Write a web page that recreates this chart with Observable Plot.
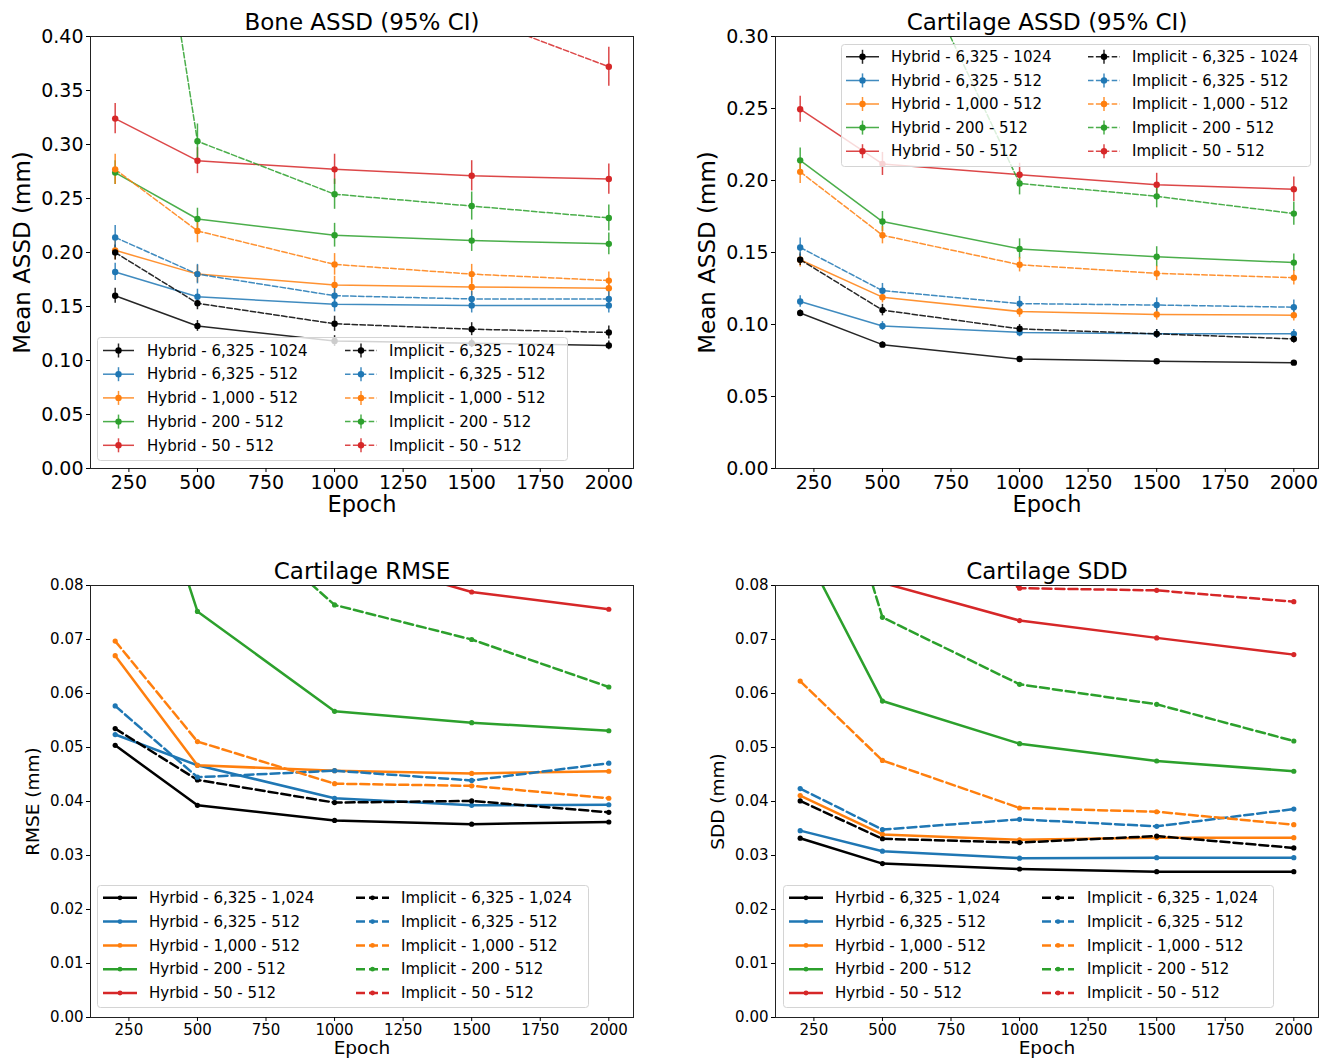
<!DOCTYPE html>
<html><head><meta charset="utf-8">
<script src="https://cdn.jsdelivr.net/npm/d3@7"></script>
<script src="https://cdn.jsdelivr.net/npm/@observablehq/plot@0.6"></script>
<style>
body{margin:0;background:#fff;}
#root{position:relative;width:1320px;height:1059px;font-family:"DejaVu Sans",sans-serif;background:#fff;}
#root svg{position:absolute;overflow:visible;}
</style></head><body><div id="root"></div>
<script>
// ---------- data ----------
const epochs = [200, 500, 1000, 1500, 2000];
const xTicks = [250, 500, 750, 1000, 1250, 1500, 1750, 2000];
const configs = ["6,325 - 1024", "6,325 - 512", "1,000 - 512", "200 - 512", "50 - 512"];
const configLabelsB = ["6,325 - 1,024", "6,325 - 512", "1,000 - 512", "200 - 512", "50 - 512"];
const configColors = ["#000000", "#1f77b4", "#ff7f0e", "#2ca02c", "#d62728"];

const yTicksBone = [0, 0.05, 0.10, 0.15, 0.20, 0.25, 0.30, 0.35, 0.40];
const yTicksCartAssd = [0, 0.05, 0.10, 0.15, 0.20, 0.25, 0.30];
const yTicksSmall = [0, 0.01, 0.02, 0.03, 0.04, 0.05, 0.06, 0.07, 0.08];

// Bone ASSD (mean, 95% CI half width); rows follow configs
const boneHybrid = [
  [0.160, 0.132, 0.118, 0.116, 0.114],
  [0.182, 0.159, 0.152, 0.151, 0.151],
  [0.202, 0.180, 0.170, 0.168, 0.167],
  [0.274, 0.231, 0.216, 0.211, 0.208],
  [0.324, 0.285, 0.277, 0.271, 0.268]
];
const boneHybridCI = [
  [0.007, 0.005, 0.005, 0.004, 0.004],
  [0.008, 0.007, 0.007, 0.007, 0.007],
  [0.009, 0.008, 0.008, 0.008, 0.008],
  [0.011, 0.010, 0.011, 0.010, 0.010],
  [0.014, 0.012, 0.014, 0.014, 0.014]
];
const boneImplicit = [
  [0.200, 0.153, 0.134, 0.129, 0.126],
  [0.214, 0.180, 0.160, 0.157, 0.157],
  [0.277, 0.220, 0.189, 0.180, 0.174],
  [0.790, 0.303, 0.254, 0.243, 0.232],
  [0.620, 0.520, 0.460, 0.420, 0.372]
];
const boneImplicitCI = [
  [0.007, 0.006, 0.007, 0.006, 0.006],
  [0.011, 0.009, 0.008, 0.007, 0.007],
  [0.014, 0.011, 0.010, 0.009, 0.008],
  [0.030, 0.016, 0.014, 0.013, 0.012],
  [0.030, 0.025, 0.022, 0.019, 0.018]
];

// Cartilage ASSD
const cartHybrid = [
  [0.108, 0.086, 0.076, 0.0745, 0.0735],
  [0.116, 0.099, 0.0945, 0.0935, 0.0935],
  [0.145, 0.119, 0.109, 0.107, 0.1065],
  [0.214, 0.1715, 0.1525, 0.147, 0.143],
  [0.2495, 0.2115, 0.204, 0.197, 0.194]
];
const cartHybridCI = [
  [0.002, 0.002, 0.0015, 0.0015, 0.0015],
  [0.004, 0.003, 0.003, 0.003, 0.003],
  [0.005, 0.004, 0.004, 0.004, 0.004],
  [0.0085, 0.007, 0.007, 0.007, 0.006],
  [0.009, 0.008, 0.008, 0.008, 0.0085]
];
const cartImplicit = [
  [0.145, 0.110, 0.097, 0.0935, 0.090],
  [0.1535, 0.1235, 0.1145, 0.1135, 0.112],
  [0.206, 0.162, 0.1415, 0.1355, 0.1325],
  [0.600, 0.400, 0.198, 0.189, 0.177],
  [0.700, 0.500, 0.400, 0.360, 0.330]
];
const cartImplicitCI = [
  [0.004, 0.004, 0.003, 0.003, 0.003],
  [0.0065, 0.005, 0.005, 0.005, 0.005],
  [0.008, 0.006, 0.005, 0.005, 0.005],
  [0.020, 0.012, 0.008, 0.008, 0.008],
  [0.020, 0.015, 0.012, 0.012, 0.012]
];

// Cartilage RMSE
const rmseHybrid = [
  [0.0504, 0.0393, 0.0365, 0.0358, 0.0362],
  [0.0524, 0.0467, 0.0406, 0.0393, 0.0394],
  [0.0670, 0.0467, 0.0457, 0.0452, 0.0456],
  [0.1220, 0.0752, 0.0567, 0.0546, 0.0531],
  [0.1400, 0.1000, 0.0860, 0.0788, 0.0756]
];
const rmseImplicit = [
  [0.0535, 0.0440, 0.0398, 0.0401, 0.0380],
  [0.0577, 0.0445, 0.0457, 0.0439, 0.0471],
  [0.0697, 0.0511, 0.0433, 0.0429, 0.0406],
  [0.1300, 0.0990, 0.0764, 0.0700, 0.0612],
  [0.1600, 0.1300, 0.1100, 0.0950, 0.0900]
];

// Cartilage SDD
const sddHybrid = [
  [0.0332, 0.0285, 0.0275, 0.0270, 0.0270],
  [0.0346, 0.0308, 0.0295, 0.0296, 0.0296],
  [0.0411, 0.0339, 0.0329, 0.0333, 0.0333],
  [0.0880, 0.0586, 0.0507, 0.0475, 0.0456],
  [0.1000, 0.0805, 0.0735, 0.0703, 0.0672]
];
const sddImplicit = [
  [0.0401, 0.0331, 0.0324, 0.0336, 0.0314],
  [0.0424, 0.0348, 0.0367, 0.0354, 0.0386],
  [0.0623, 0.0476, 0.0388, 0.0381, 0.0357],
  [0.1240, 0.0741, 0.0617, 0.0580, 0.0512],
  [0.1100, 0.0950, 0.0795, 0.0791, 0.0770]
];

// ---------- drawing ----------
const root = document.getElementById("root");

function rowsFor(type, values, ci) {
  const out = [];
  configs.forEach((c, i) => epochs.forEach((e, j) => {
    const v = values[i][j], d = ci ? ci[i][j] : 0;
    out.push({type, config: c, epoch: e, value: v, lo: v - d, hi: v + d});
  }));
  return out;
}

function drawPanel(p) {
  const hyb = rowsFor("Hybrid", p.hybrid, p.hybridCI);
  const imp = rowsFor("Implicit", p.implicit, p.implicitCI);
  const all = hyb.concat(imp);
  const marks = [];
  marks.push(Plot.line(hyb, {x: "epoch", y: "value", z: "config", stroke: "config", strokeWidth: p.lw, strokeOpacity: p.opacity, clip: true}));
  marks.push(Plot.line(imp, {x: "epoch", y: "value", z: "config", stroke: "config", strokeWidth: p.lw, strokeOpacity: p.opacity, strokeDasharray: p.dash, clip: true}));
  if (p.hybridCI) {
    marks.push(Plot.ruleX(all, {x: "epoch", y1: "lo", y2: "hi", stroke: "config", strokeWidth: 1.5, strokeOpacity: p.opacity, clip: true}));
  }
  marks.push(Plot.dot(all, {x: "epoch", y: "value", fill: "config", r: p.r, clip: true}));
  marks.push(Plot.frame({stroke: "#222", strokeWidth: 1}));
  marks.push(Plot.axisY({ticks: p.yTicks, tickFormat: d3.format(".2f"), tickSize: 4, tickPadding: 3, fontSize: p.tickFont, label: null}));
  marks.push(Plot.axisX({ticks: xTicks, tickFormat: d3.format("d"), tickSize: 4, tickPadding: 3, fontSize: p.tickFont, label: null}));
  marks.push(Plot.text([p.title], {text: d => d, frameAnchor: "top", textAnchor: "middle", lineAnchor: "middle", dy: -14, fontSize: 23}));
  marks.push(Plot.text(["Epoch"], {text: d => d, frameAnchor: "bottom", textAnchor: "middle", lineAnchor: "middle", dy: p.xlabelDy, fontSize: p.xlabelFont}));
  marks.push(Plot.text([p.ylabel], {text: d => d, frameAnchor: "left", textAnchor: "middle", lineAnchor: "middle", rotate: -90, dx: p.ylabelDx, fontSize: p.ylabelFont}));
  const svg = Plot.plot({
    width: p.width, height: p.height,
    marginLeft: p.ml, marginRight: p.mr, marginTop: p.mt, marginBottom: p.mb,
    x: {domain: [110, 2090]},
    y: {domain: p.yDomain},
    color: {domain: configs, range: configColors},
    style: {fontFamily: "DejaVu Sans, sans-serif", fontSize: p.tickFont + "px", color: "#000", background: "transparent", overflow: "visible"},
    marks
  });
  svg.style.left = p.left + "px";
  svg.style.top = p.top + "px";
  root.appendChild(svg);
}

function drawLegend(p) {
  const svg = d3.select(root).append("svg")
    .style("left", p.left + "px").style("top", p.top + "px")
    .attr("width", p.width).attr("height", p.height);
  svg.append("rect").attr("x", 0.5).attr("y", 0.5).attr("width", p.width - 1).attr("height", p.height - 1)
    .attr("rx", 3).attr("fill", "white").attr("fill-opacity", 0.8).attr("stroke", "#d4d4d4");
  const cols = [
    {handle: p.h1, text: p.t1, prefix: p.prefixes[0], dash: null},
    {handle: p.h2, text: p.t2, prefix: p.prefixes[1], dash: p.dash}
  ];
  cols.forEach(col => {
    p.labels.forEach((lab, i) => {
      const y = p.rows[i] - p.top;
      const x1 = col.handle[0] - p.left, x2 = col.handle[1] - p.left, xm = (x1 + x2) / 2;
      const color = configColors[i];
      const ln = svg.append("line").attr("x1", x1).attr("x2", x2).attr("y1", y).attr("y2", y)
        .attr("stroke", color).attr("stroke-width", p.lw).attr("stroke-opacity", p.opacity);
      if (col.dash) ln.attr("stroke-dasharray", col.dash);
      if (p.errbar) {
        svg.append("line").attr("x1", xm).attr("x2", xm).attr("y1", y - 7).attr("y2", y + 7)
          .attr("stroke", color).attr("stroke-width", 1.5).attr("stroke-opacity", p.opacity);
      }
      svg.append("circle").attr("cx", xm).attr("cy", y).attr("r", p.r).attr("fill", color);
      svg.append("text").attr("x", col.text - p.left).attr("y", y).attr("dy", "0.35em")
        .attr("font-family", "DejaVu Sans, sans-serif").attr("font-size", p.font).attr("fill", "#000")
        .text(col.prefix + " - " + lab);
    });
  });
}

const common12 = {width: 660, height: 530, mt: 36, mb: 62, lw: 1.5, opacity: 0.85, dash: "5.5,2.4", r: 3.2,
  tickFont: 19, xlabelDy: 36, xlabelFont: 22.5, ylabelDx: -68, ylabelFont: 23};
const common34 = {width: 660, height: 519, mt: 45, mb: 42, lw: 2.5, opacity: 1, dash: "9,4", r: 2.6,
  tickFont: 15, xlabelDy: 31, xlabelFont: 18.5, ylabelDx: -57, ylabelFont: 18.5};

drawPanel({...common12, left: 0, top: 0, ml: 90, mr: 27, yDomain: [0, 0.40], yTicks: yTicksBone,
  hybrid: boneHybrid, hybridCI: boneHybridCI, implicit: boneImplicit, implicitCI: boneImplicitCI,
  title: "Bone ASSD (95% CI)", ylabel: "Mean ASSD (mm)"});
drawPanel({...common12, left: 660, top: 0, ml: 115, mr: 2, yDomain: [0, 0.30], yTicks: yTicksCartAssd,
  hybrid: cartHybrid, hybridCI: cartHybridCI, implicit: cartImplicit, implicitCI: cartImplicitCI,
  title: "Cartilage ASSD (95% CI)", ylabel: "Mean ASSD (mm)"});
drawPanel({...common34, left: 0, top: 540, ml: 90, mr: 27, yDomain: [0, 0.08], yTicks: yTicksSmall,
  hybrid: rmseHybrid, implicit: rmseImplicit, title: "Cartilage RMSE", ylabel: "RMSE (mm)"});
drawPanel({...common34, left: 660, top: 540, ml: 115, mr: 2, yDomain: [0, 0.08], yTicks: yTicksSmall,
  hybrid: sddHybrid, implicit: sddImplicit, title: "Cartilage SDD", ylabel: "SDD (mm)"});

const legendA = {errbar: true, lw: 1.5, opacity: 0.85, r: 3.2, dash: "5.5,2.4", font: 15,
  prefixes: ["Hybrid", "Implicit"], labels: configs};
const legendB = {errbar: false, lw: 2.5, opacity: 1, r: 2.4, dash: "9,4", font: 15,
  prefixes: ["Hyrbid", "Implicit"], labels: configLabelsB};

drawLegend({...legendA, left: 97, top: 337, width: 471, height: 124,
  rows: [350.5, 374.2, 397.9, 421.6, 445.3], h1: [103, 134], t1: 147, h2: [345, 377], t2: 389});
drawLegend({...legendA, left: 841, top: 44, width: 470, height: 123,
  rows: [56.8, 80.4, 104, 127.6, 151.2], h1: [846, 879], t1: 891, h2: [1088, 1120], t2: 1132});
drawLegend({...legendB, left: 97, top: 885, width: 492, height: 123,
  rows: [897.8, 921.6, 945.4, 969.2, 993], h1: [103, 137], t1: 149, h2: [356, 389], t2: 401});
drawLegend({...legendB, left: 783, top: 885, width: 491, height: 123,
  rows: [897.8, 921.6, 945.4, 969.2, 993], h1: [789, 823], t1: 835, h2: [1042, 1074], t2: 1087});
</script>
</body></html>
